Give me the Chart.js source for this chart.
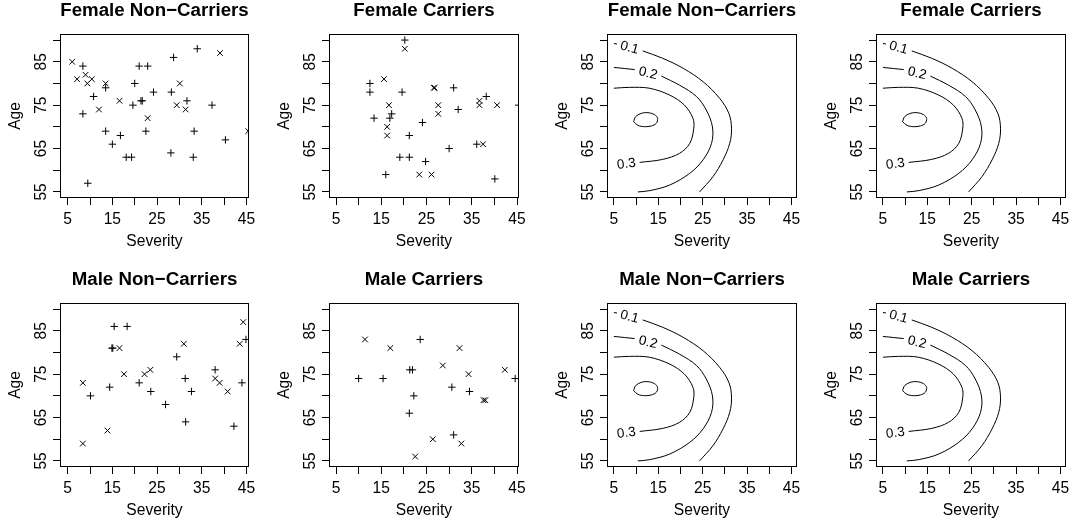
<!DOCTYPE html>
<html lang="en">
<head>
<meta charset="UTF-8">
<title>Severity and Age by Group</title>
<script src="https://cdn.jsdelivr.net/npm/chart.js@4.4.0/dist/chart.umd.min.js"></script>
<style>
  body { margin: 0; width: 1072px; height: 527px; overflow: hidden; background: #fff; position: relative; }
  canvas { position: absolute; }
</style>
</head>
<body>
<canvas id="p1" width="268" height="258" style="left:0;top:0"></canvas>
<canvas id="p2" width="268" height="258" style="left:269px;top:0"></canvas>
<canvas id="p3" width="268" height="258" style="left:547px;top:0"></canvas>
<canvas id="p4" width="268" height="258" style="left:816px;top:0"></canvas>
<canvas id="p5" width="268" height="258" style="left:0;top:269px"></canvas>
<canvas id="p6" width="268" height="258" style="left:269px;top:269px"></canvas>
<canvas id="p7" width="268" height="258" style="left:547px;top:269px"></canvas>
<canvas id="p8" width="268" height="258" style="left:816px;top:269px"></canvas>
<script>
// axis ticks (R style: every tick marked, every other one labelled)
const xTicks = [5, 10, 15, 20, 25, 30, 35, 40, 45];
const xTickLabels = ['5', '', '15', '', '25', '', '35', '', '45'];
const yTicks = [55, 60, 65, 70, 75, 80, 85, 90];
const yTickLabels = ['55', '', '65', '', '75', '', '85', ''];

// female non-carriers
const femNonPlusSev = [8.4, 8.4, 9.5, 10.8, 13.5, 13.5, 15.0, 16.8, 18.1, 19.3, 19.6, 20.0, 21.0, 22.9, 21.4, 21.7, 24.2, 22.5, 28.7, 28.2, 28.1, 31.7, 34.0, 33.3, 33.1, 37.3, 40.3];
const femNonPlusAge = [84, 73, 57, 77, 79, 69, 66, 68, 63, 63, 75, 80, 84, 84, 76, 76, 78, 69, 86, 78, 64, 76, 88, 69, 63, 75, 67];
const femNonCrossSev = [6.0, 7.1, 9.0, 9.4, 10.4, 12.0, 13.5, 16.6, 22.9, 30.1, 29.4, 31.4, 39.1, 45.4];
const femNonCrossAge = [85, 81, 82, 80, 81, 74, 80, 76, 72, 80, 75, 74, 87, 69];

// female carriers
const femCarPlusSev = [20.2, 12.5, 12.5, 19.6, 13.4, 17.3, 16.9, 21.2, 19.1, 21.2, 24.1, 24.8, 16.0, 31.0, 32.0, 30.0, 38.2, 36.1, 40.1, 45.4];
const femCarPlusAge = [90, 80, 78, 78, 72, 73, 72, 68, 63, 63, 71, 62, 59, 79, 74, 65, 77, 66, 58, 75];
const femCarCrossSev = [20.2, 15.6, 16.7, 16.3, 16.3, 23.4, 26.1, 26.6, 26.8, 27.6, 27.6, 36.7, 36.7, 40.6, 37.5];
const femCarCrossAge = [88, 81, 75, 70, 68, 59, 59, 79, 79, 75, 73, 76, 75, 75, 66];

// male non-carriers
const maleNonPlusSev = [10.1, 14.4, 14.9, 15.1, 15.4, 18.3, 21.0, 23.6, 26.9, 29.4, 31.3, 31.4, 32.7, 38.0, 42.2, 44.9, 44.0];
const maleNonPlusAge = [70, 72, 81, 81, 86, 86, 73, 71, 68, 79, 74, 64, 71, 76, 63, 83, 73];
const maleNonCrossSev = [8.4, 8.4, 13.9, 16.6, 17.6, 22.2, 23.5, 31.0, 38.0, 39.0, 40.8, 43.5, 44.3];
const maleNonCrossAge = [73, 59, 62, 81, 75, 75, 76, 82, 74, 73, 71, 82, 87];

// male carriers
const maleCarPlusSev = [23.6, 10.0, 15.4, 21.3, 21.9, 22.2, 21.2, 30.6, 34.5, 31.0, 44.6];
const maleCarPlusAge = [83, 74, 74, 76, 76, 70, 66, 72, 71, 61, 74];
const maleCarCrossSev = [11.4, 17.0, 28.6, 32.3, 34.3, 26.4, 32.7, 22.5, 37.6, 38.0, 42.3];
const maleCarCrossAge = [83, 81, 77, 81, 75, 60, 59, 56, 69, 69, 76];

// density contours (null = break in the line where the level label sits)
const c01Sev = [5.0, 5.7, null, 11.5, 16.0, 20.6, 25.1, 28.8, 30.9, 31.5, 31.1, 29.6, 27.3, 24.3];
const c01Age = [89.2, 89.1, null, 87.5, 85.8, 83.5, 80.4, 76.6, 73.1, 69.7, 66.2, 62.4, 58.5, 55.0];
const c02Sev = [5.0, 9.7, null, 15.7, 19.8, 23.6, 25.8, 27.2, 27.0, 25.1, 22.1, 17.6, 13.1, 10.4];
const c02Age = [83.7, 83.2, null, 81.7, 79.6, 77.0, 73.9, 70.0, 66.2, 62.4, 59.3, 56.6, 55.3, 55.0];
const c03Sev = [5.0, 8.5, 13.0, 17.6, 20.9, 22.8, 23.0, 22.1, 19.8, 16.0, 10.8];
const c03Age = [78.9, 79.1, 78.9, 77.3, 75.0, 72.0, 69.7, 66.2, 63.9, 62.5, 61.8];
const c04Sev = [9.44, 9.89, 11.17, 12.67, 14.17, 14.85, 14.55, 13.42, 11.92, 10.41, 9.44];
const c04Age = [71.19, 72.34, 73.11, 73.27, 72.80, 71.96, 70.81, 70.20, 70.04, 70.35, 71.19];

const contourLevels = ['0.1', '0.2', '0.3'];
const levelLabelSev = [8.5, 12.7, 7.8];
const levelLabelAge = [88.2, 82.3, 61.4];

const FONT = "'Liberation Sans', Arial, Helvetica, sans-serif";
Chart.defaults.font.family = FONT;
Chart.defaults.color = '#000';

const pts = (xs, ys) => xs.map((x, i) => ({ x: x, y: ys[i] }));

// box around the plot region + rotated y tick labels
const framePlugin = {
  id: 'frame',
  afterDraw(chart) {
    const { ctx, chartArea: a } = chart;
    const y = chart.scales.y;
    ctx.save();
    ctx.strokeStyle = '#000';
    ctx.lineWidth = 1;
    ctx.strokeRect(a.left + 0.5, a.top + 0.5, a.right - a.left - 1, a.bottom - a.top - 1);
    ctx.fillStyle = '#000';
    ctx.font = '15.6px ' + FONT;
    ctx.textAlign = 'center';
    ctx.textBaseline = 'alphabetic';
    yTicks.forEach((v, i) => {
      if (!yTickLabels[i]) return;
      ctx.save();
      ctx.translate(a.left - 14.3, y.getPixelForValue(v));
      ctx.rotate(-Math.PI / 2);
      ctx.fillText(yTickLabels[i], 0, 0);
      ctx.restore();
    });
    ctx.restore();
  }
};

// level labels, turned along the contour
const levelLabelPlugin = {
  id: 'levelLabels',
  afterDatasetsDraw(chart) {
    const { ctx, scales: { x, y } } = chart;
    ctx.save();
    ctx.fillStyle = '#000';
    ctx.font = '13.5px ' + FONT;
    ctx.textAlign = 'center';
    ctx.textBaseline = 'middle';
    contourLevels.forEach((txt, i) => {
      const px = x.getPixelForValue(levelLabelSev[i]);
      const py = y.getPixelForValue(levelLabelAge[i]);
      const near = chart.getDatasetMeta(i).data
        .filter(p => !p.skip)
        .map(p => ({ x: p.x, y: p.y, d: Math.hypot(p.x - px, p.y - py) }))
        .sort((a, b) => a.d - b.d)
        .slice(0, 2)
        .sort((a, b) => a.x - b.x);
      const ang = Math.atan2(near[1].y - near[0].y, near[1].x - near[0].x);
      ctx.save();
      ctx.translate(px, py);
      ctx.rotate(ang);
      ctx.fillText(txt, 0, 0);
      ctx.restore();
    });
    ctx.restore();
  }
};

function axisGrid() {
  return { drawOnChartArea: false, drawTicks: true, tickLength: 7, color: '#000', lineWidth: 1 };
}

function makePanel(id, title, xMin, xMax, rightPad, datasets, extra) {
  return new Chart(document.getElementById(id), {
    type: 'scatter',
    data: { datasets: datasets },
    options: {
      responsive: false,
      animation: false,
      layout: { padding: { left: 0, right: rightPad, top: 0, bottom: 0 } },
      plugins: {
        legend: { display: false },
        tooltip: { enabled: false },
        title: {
          display: true,
          text: title,
          fullSize: false,
          color: '#000',
          font: { size: 18.7, weight: 'bold', lineHeight: 1 },
          padding: { top: 1.5, bottom: 13.8 }
        }
      },
      scales: {
        x: {
          type: 'linear',
          min: xMin,
          max: xMax,
          afterBuildTicks: s => { s.ticks = xTicks.map(v => ({ value: v })); },
          afterFit: s => { s.height = 60; },
          grid: axisGrid(),
          border: { display: false },
          ticks: {
            autoSkip: false,
            maxRotation: 0,
            padding: 6.8,
            color: '#000',
            font: { size: 15.6, lineHeight: 1 },
            callback: (v, i) => xTickLabels[i]
          },
          title: {
            display: true,
            text: 'Severity',
            color: '#000',
            font: { size: 15.6, lineHeight: 1 },
            padding: { top: 0, bottom: 8.3 }
          }
        },
        y: {
          type: 'linear',
          min: 53.6,
          max: 91.4,
          afterBuildTicks: s => { s.ticks = yTicks.map(v => ({ value: v })); },
          afterFit: s => { s.width = 60; },
          grid: axisGrid(),
          border: { display: false },
          ticks: { display: false },
          title: {
            display: true,
            text: 'Age',
            color: '#000',
            font: { size: 15.6, lineHeight: 1 },
            padding: { top: 7.5, bottom: 0 }
          }
        }
      }
    },
    plugins: [framePlugin].concat(extra || [])
  });
}

function scatterSets(plusSev, plusAge, crossSev, crossAge) {
  const common = { showLine: false, clip: 0, pointBorderColor: '#000', pointBackgroundColor: 'transparent', pointBorderWidth: 1 };
  return [
    Object.assign({ data: pts(plusSev, plusAge), pointStyle: 'cross', pointRadius: 3.7 }, common),
    Object.assign({ data: pts(crossSev, crossAge), pointStyle: 'crossRot', pointRadius: 4 }, common)
  ];
}

function contourSets() {
  const line = { showLine: true, clip: 0, pointRadius: 0, borderColor: '#000', borderWidth: 1, tension: 0.35, spanGaps: false };
  return [
    Object.assign({ data: pts(c01Sev, c01Age) }, line),
    Object.assign({ data: pts(c02Sev, c02Age) }, line),
    Object.assign({ data: pts(c03Sev, c03Age) }, line),
    Object.assign({ data: pts(c04Sev, c04Age) }, line)
  ];
}

const NC = 'Non\u2212Carriers';

makePanel('p1', 'Female ' + NC, 3.28, 45.58, 19, scatterSets(femNonPlusSev, femNonPlusAge, femNonCrossSev, femNonCrossAge));
makePanel('p2', 'Female Carriers', 3.45, 45.44, 18, scatterSets(femCarPlusSev, femCarPlusAge, femCarCrossSev, femCarCrossAge));
makePanel('p3', 'Female ' + NC, 3.45, 46.25, 18, contourSets(), [levelLabelPlugin]);
makePanel('p4', 'Female Carriers', 3.45, 46.25, 18, contourSets(), [levelLabelPlugin]);
makePanel('p5', 'Male ' + NC, 3.28, 45.58, 19, scatterSets(maleNonPlusSev, maleNonPlusAge, maleNonCrossSev, maleNonCrossAge));
makePanel('p6', 'Male Carriers', 3.45, 45.44, 18, scatterSets(maleCarPlusSev, maleCarPlusAge, maleCarCrossSev, maleCarCrossAge));
makePanel('p7', 'Male ' + NC, 3.45, 46.25, 18, contourSets(), [levelLabelPlugin]);
makePanel('p8', 'Male Carriers', 3.45, 46.25, 18, contourSets(), [levelLabelPlugin]);
</script>
</body>
</html>
